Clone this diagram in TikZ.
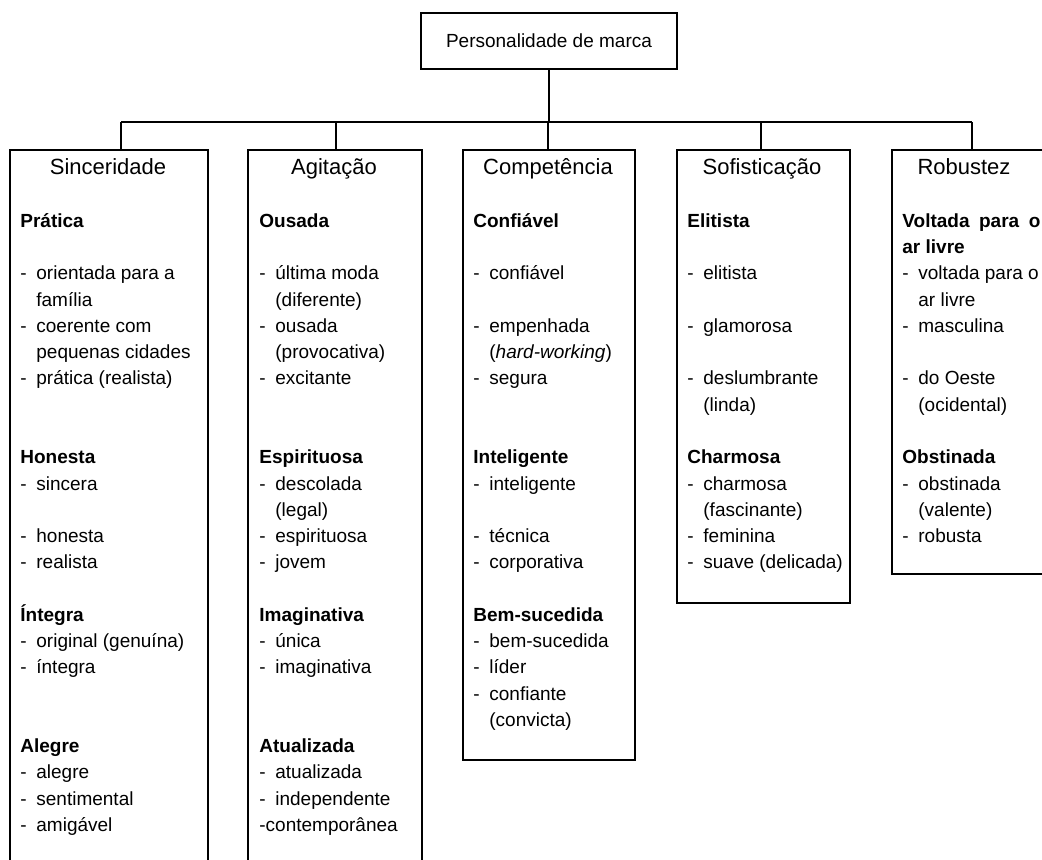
\documentclass[tikz,border=0pt]{standalone}
\usepackage{fontspec}
\setmainfont{Liberation Sans}

\newcommand\ditem[1]{\makebox[8pt][l]{-}#1}
\newcommand\dcont[1]{\hspace*{8pt}#1}
\newcommand\firstline{\rule{0pt}{9.5pt}}

\begin{document}
\begin{tikzpicture}[x=0.5pt,y=-0.5pt,
  box/.style={draw,line width=0.8pt,inner sep=0pt,anchor=north west},
  head/.style={font=\fontsize{11}{13}\selectfont,anchor=base,inner sep=0pt},
  body/.style={font=\fontsize{9.5}{13.13}\selectfont,align=left,anchor=north west,inner sep=0pt}]
\clip (0,0) rectangle (1042,859);

\node [draw,line width=0.8pt,minimum width=128pt,minimum height=28pt,font=\fontsize{9.5}{12}\selectfont] at (549,41) (root) {Personalidade de marca};

\node [box,minimum width=99pt,minimum height=366pt] at (9,149) (c1) {};
\node [box,minimum width=87pt,minimum height=366pt] at (247,149) (c2) {};
\node [box,minimum width=86pt,minimum height=305pt] at (462,149) (c3) {};
\node [box,minimum width=86.5pt,minimum height=226.5pt] at (676,149) (c4) {};
\node [box,minimum width=90pt,minimum height=212pt] at (891,149) (c5) {};

\node [head] at (108,174) (h1) {Sinceridade};
\node [head] at (334,174) (h2) {Agitação};
\node [head] at (548,174) (h3) {Competência};
\node [head] at (762,174) (h4) {Sofisticação};
\node [head] at (964,174) (h5) {Robustez};

\node [body] at (20,208) (b1) {\firstline\textbf{Prática}\\ ~\\
  \ditem{orientada para a}\\ \dcont{família}\\
  \ditem{coerente com}\\ \dcont{pequenas cidades}\\
  \ditem{prática (realista)}\\ ~\\ ~\\
  \textbf{Honesta}\\ \ditem{sincera}\\ ~\\
  \ditem{honesta}\\ \ditem{realista}\\ ~\\
  \textbf{Íntegra}\\ \ditem{original (genuína)}\\ \ditem{íntegra}\\ ~\\ ~\\
  \textbf{Alegre}\\ \ditem{alegre}\\ \ditem{sentimental}\\ \ditem{amigável}};

\node [body] at (259,208) (b2) {\firstline\textbf{Ousada}\\ ~\\
  \ditem{última moda}\\ \dcont{(diferente)}\\
  \ditem{ousada}\\ \dcont{(provocativa)}\\
  \ditem{excitante}\\ ~\\ ~\\
  \textbf{Espirituosa}\\ \ditem{descolada}\\ \dcont{(legal)}\\
  \ditem{espirituosa}\\ \ditem{jovem}\\ ~\\
  \textbf{Imaginativa}\\ \ditem{única}\\ \ditem{imaginativa}\\ ~\\ ~\\
  \textbf{Atualizada}\\ \ditem{atualizada}\\ \ditem{independente}\\ -contemporânea};

\node [body] at (473,208) (b3) {\firstline\textbf{Confiável}\\ ~\\
  \ditem{confiável}\\ ~\\
  \ditem{empenhada}\\ \dcont{(\textit{hard-working})}\\
  \ditem{segura}\\ ~\\ ~\\
  \textbf{Inteligente}\\ \ditem{inteligente}\\ ~\\
  \ditem{técnica}\\ \ditem{corporativa}\\ ~\\
  \textbf{Bem-sucedida}\\ \ditem{bem-sucedida}\\ \ditem{líder}\\
  \ditem{confiante}\\ \dcont{(convicta)}};

\node [body] at (687,208) (b4) {\firstline\textbf{Elitista}\\ ~\\
  \ditem{elitista}\\ ~\\
  \ditem{glamorosa}\\ ~\\
  \ditem{deslumbrante}\\ \dcont{(linda)}\\ ~\\
  \textbf{Charmosa}\\ \ditem{charmosa}\\ \dcont{(fascinante)}\\
  \ditem{feminina}\\ \ditem{suave (delicada)}};

\node [body] at (902,208) (b5) {\firstline\textbf{\makebox[69pt][s]{Voltada para o}}\\ \textbf{ar livre}\\
  \ditem{voltada para o}\\ \dcont{ar livre}\\
  \ditem{masculina}\\ ~\\
  \ditem{do Oeste}\\ \dcont{(ocidental)}\\ ~\\
  \textbf{Obstinada}\\ \ditem{obstinada}\\ \dcont{(valente)}\\
  \ditem{robusta}};

% connectors
\coordinate (bus) at (548,122);
\foreach \n/\x in {1/121,2/336,3/548,4/761,5/972}
  \coordinate (s\n) at (\x,122);
\draw [line width=0.8pt] (root.south) -- (root.south |- bus);
\draw [line width=0.8pt] (s1) -- (s5);
\foreach \n in {1,...,5}
  \draw [line width=0.8pt] (s\n) -- (s\n |- c\n.north);
\end{tikzpicture}
\end{document}
